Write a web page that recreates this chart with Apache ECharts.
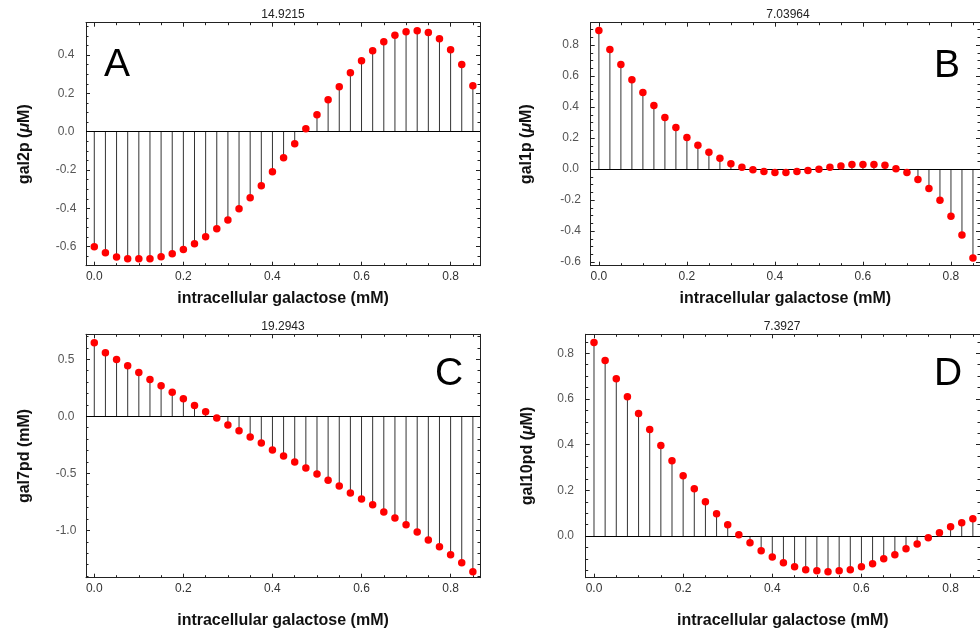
<!DOCTYPE html>
<html>
<head>
<meta charset="utf-8">
<script src="https://cdn.jsdelivr.net/npm/echarts@6/dist/echarts.min.js"></script>
<style>
html, body { margin: 0; padding: 0; background: #fff; }
#chart { width: 980px; height: 633px; }
</style>
</head>
<body>
<div id="chart"></div>
<script>
// intracellular galactose (mM)
var galactose = [0.000, 0.025, 0.050, 0.075, 0.100, 0.125, 0.150, 0.175, 0.200, 0.225,
  0.250, 0.275, 0.300, 0.325, 0.350, 0.375, 0.400, 0.425, 0.450, 0.475,
  0.500, 0.525, 0.550, 0.575, 0.600, 0.625, 0.650, 0.675, 0.700, 0.725,
  0.750, 0.775, 0.800, 0.825, 0.850];

// A
var gal2p = [-0.600, -0.631, -0.654, -0.663, -0.663, -0.663, -0.652, -0.637, -0.614, -0.584,
  -0.548, -0.506, -0.461, -0.402, -0.344, -0.282, -0.209, -0.136, -0.063, 0.016,
  0.089, 0.167, 0.235, 0.308, 0.370, 0.423, 0.470, 0.503, 0.522, 0.527,
  0.518, 0.485, 0.428, 0.351, 0.240];
// B
var gal1p = [0.895, 0.772, 0.675, 0.576, 0.495, 0.411, 0.333, 0.269, 0.204, 0.153,
  0.108, 0.069, 0.034, 0.011, -0.004, -0.015, -0.022, -0.022, -0.015, -0.009,
  -0.002, 0.011, 0.019, 0.030, 0.030, 0.030, 0.024, 0.002, -0.022, -0.067,
  -0.125, -0.202, -0.305, -0.426, -0.574];
// C
var gal7pd = [0.646, 0.558, 0.497, 0.444, 0.383, 0.322, 0.269, 0.211, 0.155, 0.094,
  0.041, -0.015, -0.076, -0.126, -0.181, -0.234, -0.295, -0.348, -0.401, -0.453,
  -0.506, -0.561, -0.611, -0.673, -0.725, -0.775, -0.839, -0.892, -0.950, -1.015,
  -1.085, -1.143, -1.213, -1.284, -1.363];
// D
var gal10pd = [0.847, 0.768, 0.689, 0.610, 0.536, 0.466, 0.396, 0.330, 0.264, 0.207,
  0.150, 0.098, 0.050, 0.006, -0.029, -0.064, -0.091, -0.117, -0.134, -0.147,
  -0.152, -0.156, -0.152, -0.147, -0.134, -0.121, -0.099, -0.082, -0.055, -0.034,
  -0.007, 0.015, 0.041, 0.058, 0.076];

var panelValues = [gal2p, gal1p, gal7pd, gal10pd];
var panelTitles = ["14.9215", "7.03964", "19.2943", "7.3927"];
var panelLetters = ["A", "B", "C", "D"];
var yNames = ["gal2p ({i|μ}M)", "gal1p ({i|μ}M)", "gal7pd (mM)", "gal10pd ({i|μ}M)"];
var xName = "intracellular galactose (mM)";
var xRange = [-0.0186, 0.866];
var xStep = 0.2;
var yRanges = [[-0.699, 0.569], [-0.624, 0.945], [-1.415, 0.719], [-0.182, 0.883]];
var ySteps = [0.2, 0.2, 0.5, 0.2];
var yMinorSplits = [4, 4, 5, 4];

// layout of the four frames (px)
var frames = [
  { left: 86, top: 22.7, width: 394, height: 243 },
  { left: 590.7, top: 22.7, width: 393.5, height: 243 },
  { left: 86, top: 334.3, width: 394, height: 243.4 },
  { left: 585.7, top: 334.3, width: 394.3, height: 243.4 }
];
var xNameGaps = [25, 25, 35, 35];
var yNameGaps = [53, 56, 53, 50];
var letterPos = [[104, 65], [934, 66], [435, 374.5], [934, 374.5]];
var titlePos = [[283, 14.5], [788, 14.5], [283, 327], [782, 327]];

var FONT = "Liberation Sans, Arial, Helvetica, sans-serif";
var fmt = function (v) { return v.toFixed(1); };

function frameAxis(extra) {
  var base = {
    type: "value",
    axisLine: { show: true, onZero: false, lineStyle: { color: "#222", width: 1 } },
    axisTick: { show: true, inside: true, length: 4, lineStyle: { color: "#222" } },
    minorTick: { show: true, length: 2.5, lineStyle: { color: "#222" } },
    splitLine: { show: false },
    axisLabel: { show: false },
    scale: true
  };
  return Object.assign(base, extra);
}

var grids = [], xAxes = [], yAxes = [], series = [], graphics = [];

for (var i = 0; i < 4; i++) {
  grids.push(Object.assign({ containLabel: false }, frames[i]));

  var xCommon = {
    gridIndex: i, min: xRange[0], max: xRange[1],
    minInterval: xStep, maxInterval: xStep
  };
  // bottom x
  xAxes.push(frameAxis(Object.assign({}, xCommon, {
    position: "bottom",
    minorTick: { show: true, splitNumber: 4, length: 2.5, lineStyle: { color: "#222" } },
    axisLabel: {
      show: true, formatter: fmt, margin: 5, color: "#333", fontSize: 12,
      fontFamily: FONT, showMinLabel: false, showMaxLabel: false
    },
    name: xName, nameLocation: "middle", nameGap: xNameGaps[i],
    nameTextStyle: { fontSize: 16, fontWeight: "bold", color: "#111", fontFamily: FONT }
  })));
  // top x
  xAxes.push(frameAxis(Object.assign({}, xCommon, {
    position: "top",
    minorTick: { show: true, splitNumber: 4, length: 2.5, lineStyle: { color: "#222" } }
  })));

  var yCommon = {
    gridIndex: i, min: yRanges[i][0], max: yRanges[i][1],
    minInterval: ySteps[i], maxInterval: ySteps[i]
  };
  var yMinor = { show: true, splitNumber: yMinorSplits[i], length: 2.5, lineStyle: { color: "#222" } };
  // left y
  yAxes.push(frameAxis(Object.assign({}, yCommon, {
    position: "left",
    minorTick: yMinor,
    axisLabel: {
      show: true, formatter: fmt, margin: 20, align: "center", color: "#555",
      fontSize: 12, fontFamily: FONT, showMinLabel: false, showMaxLabel: false
    },
    name: yNames[i], nameLocation: "middle", nameGap: yNameGaps[i],
    nameTextStyle: {
      fontSize: 16, fontWeight: "bold", color: "#111", fontFamily: FONT,
      rich: { i: { fontSize: 16, fontWeight: "bold", fontStyle: "italic", color: "#111", fontFamily: FONT } }
    }
  })));
  // right y
  yAxes.push(frameAxis(Object.assign({}, yCommon, {
    position: "right",
    minorTick: yMinor
  })));

  var pts = galactose.map(function (x, k) { return [x, panelValues[i][k]]; });

  // stems
  series.push({
    type: "bar", xAxisIndex: i * 2, yAxisIndex: i * 2,
    data: pts, barWidth: 1, silent: true,
    itemStyle: { color: "#333" }
  });
  // dots + zero line
  series.push({
    type: "scatter", xAxisIndex: i * 2, yAxisIndex: i * 2,
    data: pts, symbol: "circle", symbolSize: 7.5, silent: true,
    itemStyle: { color: "#ff0000", opacity: 1 },
    z: 5,
    markLine: {
      silent: true, symbol: "none", animation: false,
      label: { show: false },
      lineStyle: { color: "#000", width: 1, type: "solid" },
      data: [{ yAxis: 0 }]
    }
  });

  graphics.push({
    type: "text", x: titlePos[i][0], y: titlePos[i][1],
    style: { text: panelTitles[i], fontSize: 12, fontFamily: FONT, fill: "#222", align: "center", verticalAlign: "middle" }
  });
  graphics.push({
    type: "text", x: letterPos[i][0], y: letterPos[i][1],
    style: { text: panelLetters[i], fontSize: 39, fontFamily: FONT, fill: "#000", align: "left", verticalAlign: "middle" }
  });
}

var chart = echarts.init(document.getElementById("chart"), null, { renderer: "canvas" });
chart.setOption({
  animation: false,
  backgroundColor: "#fff",
  grid: grids,
  xAxis: xAxes,
  yAxis: yAxes,
  series: series,
  graphic: graphics
});
</script>
</body>
</html>
